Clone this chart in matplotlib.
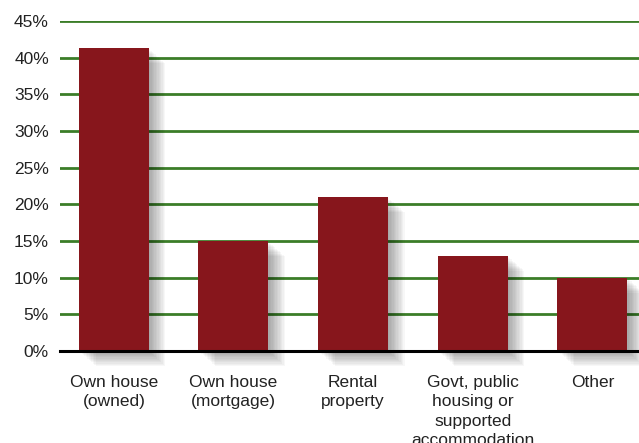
import matplotlib
matplotlib.use('Agg')
import matplotlib.pyplot as plt
import matplotlib.patheffects as pe

categories = ["Own house\n(owned)", "Own house\n(mortgage)", "Rental\nproperty",
              "Govt, public\nhousing or\nsupported\naccommodation", "Other"]
values = [41.3, 15.0, 21.0, 13.0, 10.0]
yticks = [0, 5, 10, 15, 20, 25, 30, 35, 40, 45]

plt.rcParams['font.family'] = ['Liberation Sans', 'DejaVu Sans']

fig = plt.figure(figsize=(6.39, 4.43), dpi=100)
ax = fig.add_axes([60 / 639, 1 - 351 / 443, 579 / 639, 330 / 443])

# soft drop shadow built from stacked offset shadows
shadow = [pe.SimplePatchShadow(offset=(d, -d * 0.9), shadow_rgbFace='black', alpha=0.03)
          for d in range(1, 13)]
shadow.append(pe.Normal())

x = range(len(values))
bars = ax.bar(x, values, width=0.585, color='#87161c', zorder=3, clip_on=False)
for b in bars:
    b.set_path_effects(shadow)

for t in yticks:
    ax.axhline(t, color='#3b7d28', lw=2, zorder=2)

ax.set_ylim(0, 45)
ax.set_xlim(-0.45, 4.39)
ax.set_yticks(yticks)
ax.set_yticklabels(['%d%%' % t for t in yticks], fontsize=12.5, color='#222222')
ax.set_xticks(list(x))
ax.set_xticklabels(categories, fontsize=12.5, color='#222222', linespacing=1.38)
ax.tick_params(axis='both', length=0)
ax.tick_params(axis='x', pad=17)
ax.tick_params(axis='y', pad=8)

for s in ['top', 'right', 'left']:
    ax.spines[s].set_visible(False)
ax.spines['bottom'].set_color('black')
ax.spines['bottom'].set_linewidth(2.2)
ax.spines['bottom'].set_zorder(4)

fig.savefig('out.png', dpi=100)
